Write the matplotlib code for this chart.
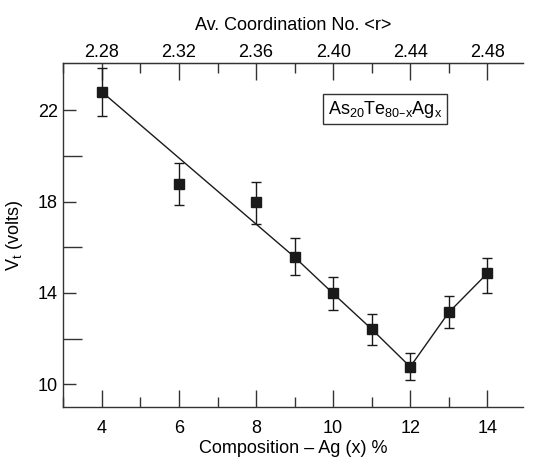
import matplotlib
matplotlib.use("Agg")
import matplotlib.pyplot as plt
from matplotlib.ticker import MultipleLocator, FixedLocator

plt.rcParams['font.family'] = ['Liberation Sans', 'DejaVu Sans']
plt.rcParams['mathtext.default'] = 'regular'

# data
ag = [4, 6, 8, 9, 10, 11, 12, 13, 14]
vt = [22.80, 18.78, 17.96, 15.57, 13.98, 12.42, 10.77, 13.15, 14.86]
err_lo = [1.06, 0.92, 0.92, 0.77, 0.73, 0.70, 0.58, 0.70, 0.85]
err_hi = [1.05, 0.91, 0.90, 0.82, 0.73, 0.64, 0.59, 0.70, 0.65]

# guide line
line_x = [4, 9, 10, 11, 12, 13, 14]
line_y = [22.80, 15.57, 13.98, 12.42, 10.77, 13.15, 14.86]

top_ticks = [2.28, 2.32, 2.36, 2.40, 2.44, 2.48]

col = '#1a1a1a'
axcol = '#333333'

fig = plt.figure(figsize=(5.45, 4.57), dpi=100)
ax = fig.add_axes([0.1162, 0.1088, 0.843, 0.7527])

ax.plot(line_x, line_y, color=col, lw=1.0, zorder=2)
ax.errorbar(ag, vt, yerr=[err_lo, err_hi], fmt='s', color=col, ms=7, capsize=3.5,
            elinewidth=1.0, capthick=1.0, zorder=3)

ax.set_xlim(3.0, 14.92)
ax.set_ylim(9.0, 24.05)

ax.spines['right'].set_visible(False)
for s in ['left', 'bottom', 'top']:
    ax.spines[s].set_linewidth(1.0)
    ax.spines[s].set_color(axcol)

ax.xaxis.set_major_locator(MultipleLocator(2))
ax.xaxis.set_minor_locator(MultipleLocator(1))
ax.tick_params(axis='x', which='major', direction='in', length=12, width=1,
               labelsize=13, pad=9, color=axcol)
ax.tick_params(axis='x', which='minor', direction='in', length=7, width=1,
               color=axcol)

# y axis: labelled ticks short, unlabelled ticks long
ax.yaxis.set_major_locator(FixedLocator([10, 14, 18, 22]))
ax.yaxis.set_minor_locator(FixedLocator([12, 16, 20]))
ax.tick_params(axis='y', which='major', direction='in', length=9, width=1,
               labelsize=13, pad=4, color=axcol)
ax.tick_params(axis='y', which='minor', direction='in', length=14, width=1,
               color=axcol)
ax.tick_params(right=False, which='both')

ax.set_xlabel('Composition \u2013 Ag (x) %', fontsize=13, labelpad=2)
ax.set_ylabel('V$_t$ (volts)', fontsize=13)
ax.yaxis.set_label_coords(-0.083, 0.5)

# top axis: average coordination number
sec = ax.secondary_xaxis('top', functions=(lambda x: 2.2 + 0.02 * x,
                                            lambda r: (r - 2.2) / 0.02))
sec.set_xticks(top_ticks)
sec.set_xticklabels(['%.2f' % t for t in top_ticks])
sec.xaxis.set_minor_locator(MultipleLocator(0.02))
sec.tick_params(which='major', direction='in', length=12, width=1,
                labelsize=13, pad=2, color=axcol)
sec.tick_params(which='minor', direction='in', length=7, width=1,
                color=axcol)
sec.spines['top'].set_color(axcol)
sec.set_xlabel('Av. Coordination No. <r>', fontsize=13, labelpad=10)

ax.text(0.70, 0.867, 'As$_{20}$Te$_{80\u2013x}$Ag$_{x}$', fontsize=13,
        transform=ax.transAxes, ha='center', va='center',
        bbox=dict(boxstyle='square,pad=0.25', fc='white', ec=axcol, lw=1.0))

fig.savefig('out.png', dpi=100)
